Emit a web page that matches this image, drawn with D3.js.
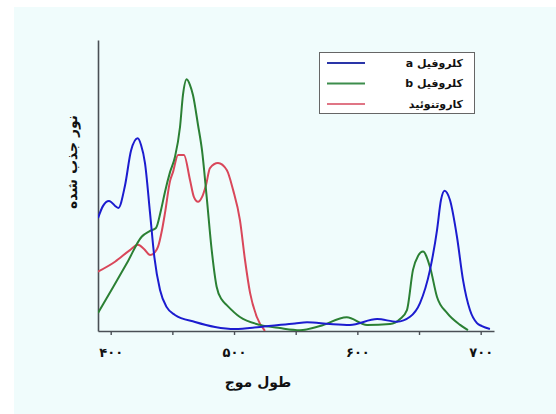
<html>
<head>
<meta charset="utf-8">
<script src="https://cdn.jsdelivr.net/npm/d3@7"></script>
<style>
  body { margin:0; background:#ffffff; }
  text { font-family: "DejaVu Sans", "Noto Sans", sans-serif; }
</style>
</head>
<body>
<svg id="chart" width=556 height=414></svg>
<script>
// wavelength (nm) / absorbance readings
var blueNm  = [389.7,393.8,398.6,406.2,411.6,416.5,421.9,424.6,427.8,431.9,435.4,440,445.4,452.1,468.4,484.6,500.8,521.1,549.4,559.2,577.8,594,616,632.1,642.7,650.8,658.9,664.6,667.8,670.7,675.1,680.8,685.7,691.3,697,701,707.5];
var blueVal = [38.8,43,44.7,42.3,50,62,66.2,63.9,57.7,40.5,25.4,14.1,8.2,5.5,3.1,1.4,0.7,1.4,2.6,3,2.4,2.1,4.1,3.2,4.9,9.6,21,34.7,45,48.2,45,32.3,17.5,7.2,2.7,1.7,0.7];

var greenNm  = [389.7,401.9,414,425.1,431.9,436.7,440.8,444,448.1,452.1,456.2,458.6,461.6,464.3,466.7,470.8,474,477.8,481.9,485.9,490.2,494.1,504.8,521.1,537.3,553.5,569.7,591.4,607.8,626.5,634.6,640.2,645.1,649.2,653.2,658.9,664.6,672.7,683.3,689.7];
var greenVal = [6.2,15,24,32.4,34.4,35.4,41.6,47.8,54.6,59.8,70.1,81.1,86.5,84.5,81.1,70.8,62.2,46.2,27.8,15.2,10.7,8.9,4.8,2.1,1,0.3,1.7,4.7,2.1,2.4,4.1,7.2,21,25.8,27.3,22,11.7,6.2,2.1,0.3];

var redNm  = [389.7,403.5,415.6,422.1,427,431.9,435.9,438.4,441.6,444,448.1,450.5,454.6,459.4,464.3,467.5,470.8,474,477.3,480.5,487,494.1,499.2,504.8,508.9,513,518.4,525.1];
var redVal = [20.4,23.8,27.8,29.6,28.2,26.1,27.1,29,34.7,40.5,51.5,54.6,60.5,60.5,51.9,46,44.4,46,50.2,56,57.7,55.3,48.5,38.1,24.4,13.1,4.9,0];

var xTicks = [400,450,500,550,600,650,700];
var seriesNames  = ["کلروفیل a","کلروفیل b","کاروتنوئید"];
var seriesColors = ["#1c1ccf","#2b8034","#d9475a"];
var legendColors = ["#2a35a8","#3d8d4c","#e07585"];

var svg = d3.select("#chart");

svg.append("rect")
  .attr("x",14).attr("y",7)
  .attr("width",542).attr("height",407)
  .attr("fill","#f0fcfc");

var x = d3.scaleLinear()
  .domain([389.7,710.8])
  .range([98,494]);

var y = d3.scaleLinear()
  .domain([0,100])
  .range([331,40]);

var faDigits = function(v){
  return String(v).replace(/[0-9]/g, function(c){ return "۰۱۲۳۴۵۶۷۸۹"[+c]; });
};

var xAxis = svg.append("g")
  .attr("transform","translate(0,331)")
  .call(d3.axisBottom(x)
    .tickValues(xTicks)
    .tickSize(4)
    .tickSizeOuter(0)
    .tickPadding(13)
    .tickFormat(function(d){ return d % 100 == 0 ? faDigits(d) : ""; }));
xAxis.select(".domain").attr("stroke","#4a4f55").attr("stroke-width",1.6);
xAxis.selectAll(".tick line").attr("stroke","#4a4f55").attr("stroke-width",1.4);
xAxis.selectAll(".tick text")
  .attr("fill","#111")
  .attr("font-size",13)
  .attr("font-weight","bold")
  .style("font-family","DejaVu Sans");

var yAxis = svg.append("g")
  .attr("transform","translate(98,0)")
  .call(d3.axisLeft(y).tickValues([]).tickSizeOuter(0));
yAxis.select(".domain").attr("stroke","#4a4f55").attr("stroke-width",1.6);

svg.append("clipPath").attr("id","plotclip")
  .append("rect")
  .attr("x",98).attr("y",30)
  .attr("width",396).attr("height",301);

var line = d3.line()
  .x(function(d){ return x(d[0]); })
  .y(function(d){ return y(d[1]); })
  .curve(d3.curveMonotoneX);

var allSeries = [
  d3.zip(blueNm, blueVal),
  d3.zip(greenNm, greenVal),
  d3.zip(redNm, redVal)
];

// red first so blue/green sit on top like in the picture
[2,1,0].forEach(function(i){
  svg.append("path")
    .datum(allSeries[i])
    .attr("clip-path","url(#plotclip)")
    .attr("fill","none")
    .attr("stroke",seriesColors[i])
    .attr("stroke-width",2)
    .attr("stroke-linejoin","round")
    .attr("d",line);
});

// legend
svg.append("rect")
  .attr("x",319.5).attr("y",52.5)
  .attr("width",155).attr("height",61)
  .attr("fill","#ffffff")
  .attr("stroke","#666")
  .attr("stroke-width",1);

var legendY = [63,83.5,104];
seriesNames.forEach(function(name,i){
  svg.append("line")
    .attr("x1",327).attr("x2",365)
    .attr("y1",legendY[i]).attr("y2",legendY[i])
    .attr("stroke",legendColors[i])
    .attr("stroke-width",2);
  svg.append("text")
    .attr("x",463)
    .attr("y",legendY[i])
    .attr("dy","0.35em")
    .attr("direction","rtl")
    .style("unicode-bidi","embed")
    .attr("text-anchor","start")
    .attr("font-size",11)
    .attr("font-weight","bold")
    .attr("fill","#111")
    .text(name);
});

svg.append("text")
  .attr("x",258)
  .attr("y",387)
  .attr("text-anchor","middle")
  .attr("font-size",14)
  .attr("font-weight","bold")
  .attr("fill","#111")
  .text("طول موج");

svg.append("text")
  .attr("transform","translate(77,162) rotate(-90)")
  .attr("text-anchor","middle")
  .attr("font-size",14)
  .attr("font-weight","bold")
  .attr("fill","#111")
  .text("نور جذب شده");
</script>
</body>
</html>
